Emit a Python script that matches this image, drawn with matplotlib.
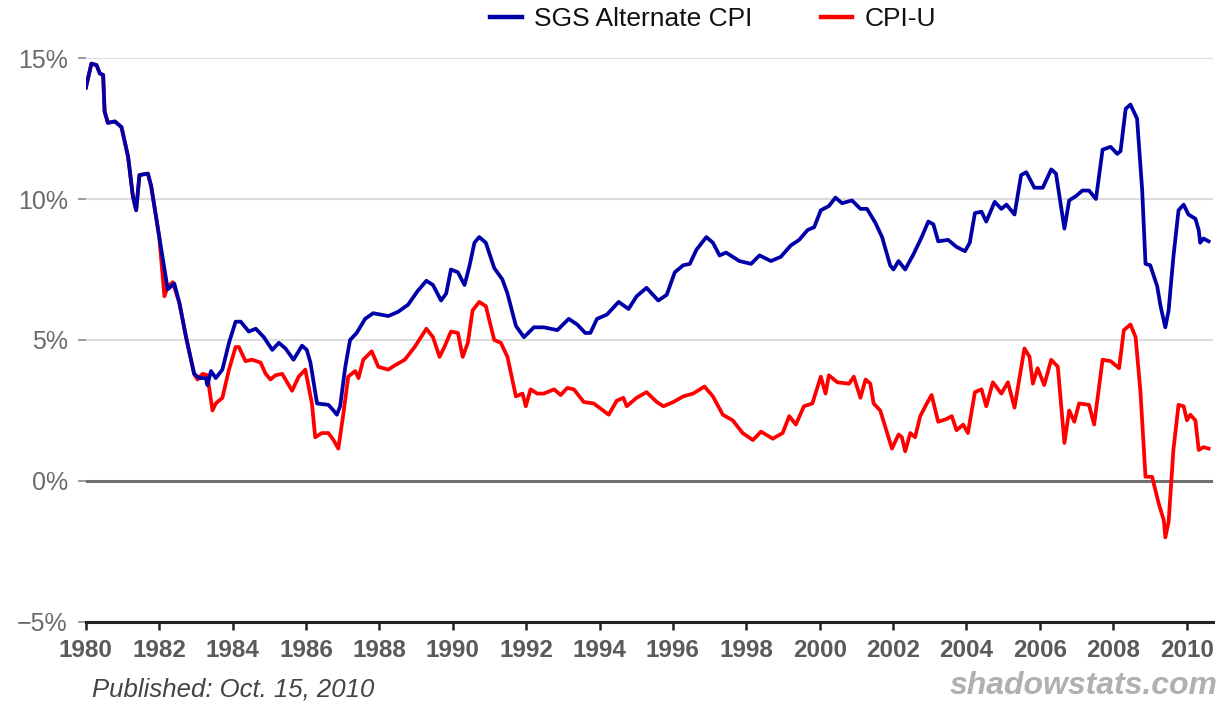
import matplotlib
matplotlib.use("Agg")
import matplotlib.pyplot as plt
from matplotlib.lines import Line2D

# SGS Alternate CPI (blue)
sgs_years = [
    1980.00, 1980.15, 1980.29, 1980.38, 1980.47, 1980.51, 1980.60, 1980.79, 1980.97,
    1981.15, 1981.28, 1981.37, 1981.46, 1981.69, 1981.78, 1982.00, 1982.23, 1982.41,
    1982.55, 1982.73, 1982.95, 1983.09, 1983.27, 1983.31, 1983.41, 1983.54, 1983.72,
    1983.90, 1984.08, 1984.22, 1984.44, 1984.63, 1984.85, 1985.08, 1985.26, 1985.44,
    1985.66, 1985.89, 1986.02, 1986.12, 1986.30, 1986.61, 1986.75, 1986.84, 1986.93,
    1987.07, 1987.20, 1987.38, 1987.61, 1987.83, 1988.24, 1988.51, 1988.78, 1989.05,
    1989.28, 1989.46, 1989.68, 1989.82, 1989.95, 1990.14, 1990.32, 1990.45, 1990.59,
    1990.72, 1990.90, 1991.13, 1991.35, 1991.49, 1991.72, 1991.94, 1992.21, 1992.48,
    1992.85, 1993.16, 1993.39, 1993.61, 1993.75, 1993.93, 1994.20, 1994.52, 1994.79,
    1995.01, 1995.28, 1995.60, 1995.83, 1996.05, 1996.28, 1996.46, 1996.64, 1996.91,
    1997.09, 1997.27, 1997.45, 1997.81, 1998.13, 1998.36, 1998.67, 1998.94, 1999.21,
    1999.44, 1999.67, 1999.85, 2000.03, 2000.25, 2000.43, 2000.61, 2000.88, 2001.11,
    2001.29, 2001.52, 2001.70, 2001.92, 2002.01, 2002.15, 2002.33, 2002.56, 2002.78,
    2002.96, 2003.10, 2003.23, 2003.50, 2003.73, 2003.96, 2004.09, 2004.23, 2004.41,
    2004.54, 2004.77, 2004.95, 2005.09, 2005.31, 2005.49, 2005.63, 2005.85, 2006.08,
    2006.31, 2006.44, 2006.67, 2006.80, 2006.98, 2007.16, 2007.34, 2007.53, 2007.71,
    2007.93, 2008.11, 2008.20, 2008.34, 2008.47, 2008.65, 2008.79, 2008.88, 2009.01,
    2009.20, 2009.29, 2009.42, 2009.51, 2009.64, 2009.78, 2009.92, 2010.05, 2010.24,
    2010.33, 2010.37, 2010.46, 2010.60,
]
sgs_values = [
    13.95, 14.8, 14.75, 14.45, 14.4, 13.1, 12.7, 12.75, 12.55,
    11.5, 10.1, 9.6, 10.85, 10.9, 10.45, 8.65, 6.8, 7.0,
    6.3, 5.1, 3.8, 3.65, 3.65, 3.4, 3.9, 3.65, 3.95,
    4.9, 5.65, 5.65, 5.3, 5.4, 5.1, 4.65, 4.9, 4.7,
    4.3, 4.8, 4.65, 4.2, 2.75, 2.7, 2.5, 2.35, 2.65,
    4.05, 5.0, 5.25, 5.75, 5.95, 5.85, 6.0, 6.25, 6.75,
    7.1, 6.95, 6.4, 6.65, 7.5, 7.4, 6.95, 7.6, 8.45,
    8.65, 8.45, 7.55, 7.15, 6.65, 5.5, 5.1, 5.45, 5.45,
    5.35, 5.75, 5.55, 5.25, 5.25, 5.75, 5.9, 6.35, 6.1,
    6.55, 6.85, 6.4, 6.6, 7.4, 7.65, 7.7, 8.2, 8.65,
    8.45, 8.0, 8.1, 7.8, 7.7, 8.0, 7.8, 7.95, 8.35,
    8.55, 8.9, 9.0, 9.6, 9.75, 10.05, 9.85, 9.95, 9.65,
    9.65, 9.15, 8.65, 7.65, 7.5, 7.8, 7.5, 8.05, 8.65,
    9.2, 9.1, 8.5, 8.55, 8.3, 8.15, 8.45, 9.5, 9.55,
    9.2, 9.9, 9.65, 9.8, 9.45, 10.85, 10.95, 10.4, 10.4,
    11.05, 10.9, 8.95, 9.95, 10.1, 10.3, 10.3, 10.0, 11.75,
    11.85, 11.6, 11.7, 13.2, 13.35, 12.85, 10.3, 7.7, 7.65,
    6.9, 6.2, 5.45, 6.05, 7.95, 9.6, 9.8, 9.45, 9.3,
    8.9, 8.45, 8.6, 8.5,
]

# CPI-U (red)
cpi_years = [
    1980.00, 1980.15, 1980.29, 1980.38, 1980.47, 1980.51, 1980.60, 1980.79, 1980.97,
    1981.15, 1981.28, 1981.37, 1981.46, 1981.69, 1981.78, 1982.00, 1982.14, 1982.23,
    1982.37, 1982.55, 1982.73, 1982.95, 1983.04, 1983.18, 1983.31, 1983.45, 1983.54,
    1983.72, 1983.90, 1984.08, 1984.17, 1984.35, 1984.53, 1984.76, 1984.90, 1985.03,
    1985.17, 1985.35, 1985.62, 1985.80, 1985.98, 1986.16, 1986.25, 1986.43, 1986.61,
    1986.75, 1986.88, 1987.02, 1987.15, 1987.34, 1987.43, 1987.56, 1987.79, 1987.97,
    1988.24, 1988.42, 1988.69, 1988.96, 1989.28, 1989.46, 1989.64, 1989.77, 1989.95,
    1990.14, 1990.27, 1990.41, 1990.54, 1990.72, 1990.90, 1991.13, 1991.31, 1991.49,
    1991.72, 1991.90, 1991.99, 1992.12, 1992.30, 1992.48, 1992.76, 1992.94, 1993.12,
    1993.30, 1993.57, 1993.84, 1994.25, 1994.47, 1994.65, 1994.74, 1995.01, 1995.28,
    1995.56, 1995.74, 1996.01, 1996.28, 1996.55, 1996.86, 1997.09, 1997.36, 1997.63,
    1997.90, 1998.18, 1998.40, 1998.72, 1998.99, 1999.17, 1999.35, 1999.57, 1999.80,
    2000.03, 2000.16, 2000.25, 2000.48, 2000.80, 2000.93, 2001.11, 2001.25, 2001.38,
    2001.47, 2001.65, 2001.97, 2002.15, 2002.24, 2002.33, 2002.47, 2002.60, 2002.74,
    2002.92, 2003.05, 2003.23, 2003.46, 2003.60, 2003.73, 2003.91, 2004.04, 2004.23,
    2004.41, 2004.54, 2004.72, 2004.95, 2005.13, 2005.31, 2005.58, 2005.72, 2005.81,
    2005.94, 2006.12, 2006.31, 2006.49, 2006.67, 2006.80, 2006.94, 2007.07, 2007.34,
    2007.48, 2007.71, 2007.93, 2008.16, 2008.29, 2008.47, 2008.61, 2008.74, 2008.88,
    2009.06, 2009.24, 2009.38, 2009.42, 2009.51, 2009.64, 2009.78, 2009.92, 2010.01,
    2010.10, 2010.24, 2010.33, 2010.46, 2010.60,
]
cpi_values = [
    13.95, 14.8, 14.75, 14.45, 14.4, 13.1, 12.7, 12.75, 12.55,
    11.5, 10.1, 9.6, 10.85, 10.9, 10.45, 8.65, 6.55, 6.9,
    7.05, 6.3, 5.1, 3.8, 3.6, 3.8, 3.75, 2.5, 2.75,
    2.95, 3.95, 4.75, 4.75, 4.25, 4.3, 4.2, 3.8, 3.6,
    3.75, 3.8, 3.2, 3.7, 3.95, 2.75, 1.55, 1.7, 1.7,
    1.45, 1.15, 2.4, 3.7, 3.9, 3.65, 4.3, 4.6, 4.05,
    3.95, 4.1, 4.3, 4.75, 5.4, 5.1, 4.4, 4.75, 5.3,
    5.25, 4.4, 4.9, 6.05, 6.35, 6.2, 5.0, 4.9, 4.4,
    3.0, 3.1, 2.65, 3.25, 3.1, 3.1, 3.25, 3.05, 3.3,
    3.25, 2.8, 2.75, 2.35, 2.85, 2.95, 2.65, 2.95, 3.15,
    2.8, 2.65, 2.8, 3.0, 3.1, 3.35, 3.0, 2.35, 2.15,
    1.7, 1.45, 1.75, 1.5, 1.7, 2.3, 2.0, 2.65, 2.75,
    3.7, 3.1, 3.75, 3.5, 3.45, 3.7, 2.95, 3.6, 3.45,
    2.75, 2.5, 1.15, 1.65, 1.55, 1.05, 1.7, 1.55, 2.3,
    2.75, 3.05, 2.1, 2.2, 2.3, 1.8, 2.0, 1.7, 3.15,
    3.25, 2.65, 3.5, 3.1, 3.5, 2.6, 4.7, 4.4, 3.45,
    4.0, 3.4, 4.3, 4.05, 1.35, 2.5, 2.1, 2.75, 2.7,
    2.0, 4.3, 4.25, 4.0, 5.35, 5.55, 5.1, 3.2, 0.15,
    0.15, -0.8, -1.4, -2.0, -1.45, 1.1, 2.7, 2.65, 2.15,
    2.35, 2.15, 1.1, 1.2, 1.15,
]

x_ticks = list(range(1980, 2011, 2))
y_ticks = [-5, 0, 5, 10, 15]

BLUE = "#0000a8"
RED = "#ff0000"

plt.rcParams["font.family"] = ["Liberation Sans", "DejaVu Sans"]

fig = plt.figure(figsize=(12.27, 7.04), dpi=100)
ax = fig.add_axes([0.070, 0.1165, 0.9186, 0.8011])

ax.plot(cpi_years, cpi_values, color=RED, lw=2.7, solid_joinstyle="round", zorder=3)
ax.plot(sgs_years, sgs_values, color=BLUE, lw=2.7, solid_joinstyle="round", zorder=4)

ax.set_xlim(1980, 2010.72)
ax.set_ylim(-5, 15)

# grid and zero line
for v in y_ticks[2:]:
    ax.axhline(v, color="#dcdcdc", lw=1.5, zorder=1)
ax.axhline(0, color="#707070", lw=2.2, zorder=2)

for side in ["left", "right", "top"]:
    ax.spines[side].set_visible(False)
ax.spines["bottom"].set_color("#222222")
ax.spines["bottom"].set_linewidth(2.2)

ax.set_xticks(x_ticks)
ax.set_xticklabels([str(y) for y in x_ticks], fontweight="bold")
ax.tick_params(axis="x", direction="out", length=6, width=1.8, color="#222222",
               labelsize=17.5, labelcolor="#5a5a5a", pad=6)

ax.set_yticks(y_ticks)
ax.set_yticklabels([f"{v}%".replace("-", "\u2212") for v in y_ticks])
ax.tick_params(axis="y", direction="out", length=6, width=1.2, color="#8a8a8a",
               labelsize=18, labelcolor="#6a6a6a", pad=7)

handles = [
    Line2D([], [], color=BLUE, lw=3.2),
    Line2D([], [], color=RED, lw=3.2),
]
fig.legend(handles, ["SGS Alternate CPI", "CPI-U"], loc="center",
           bbox_to_anchor=(0.581, 1 - 19 / 704), ncol=2, frameon=False,
           fontsize=19, handlelength=1.2, handletextpad=0.45, columnspacing=2.6,
           labelcolor="#111111")

fig.text(92 / 1227, 1 - 690 / 704, "Published: Oct. 15, 2010", fontsize=18.5,
         style="italic", color="#444444", va="center", ha="left")
fig.text(1218 / 1227, 1 - 686 / 704, "shadowstats.com", fontsize=23,
         style="italic", fontweight="bold", color="#b0b0b0", va="center", ha="right")

fig.savefig("out.png", dpi=100)
